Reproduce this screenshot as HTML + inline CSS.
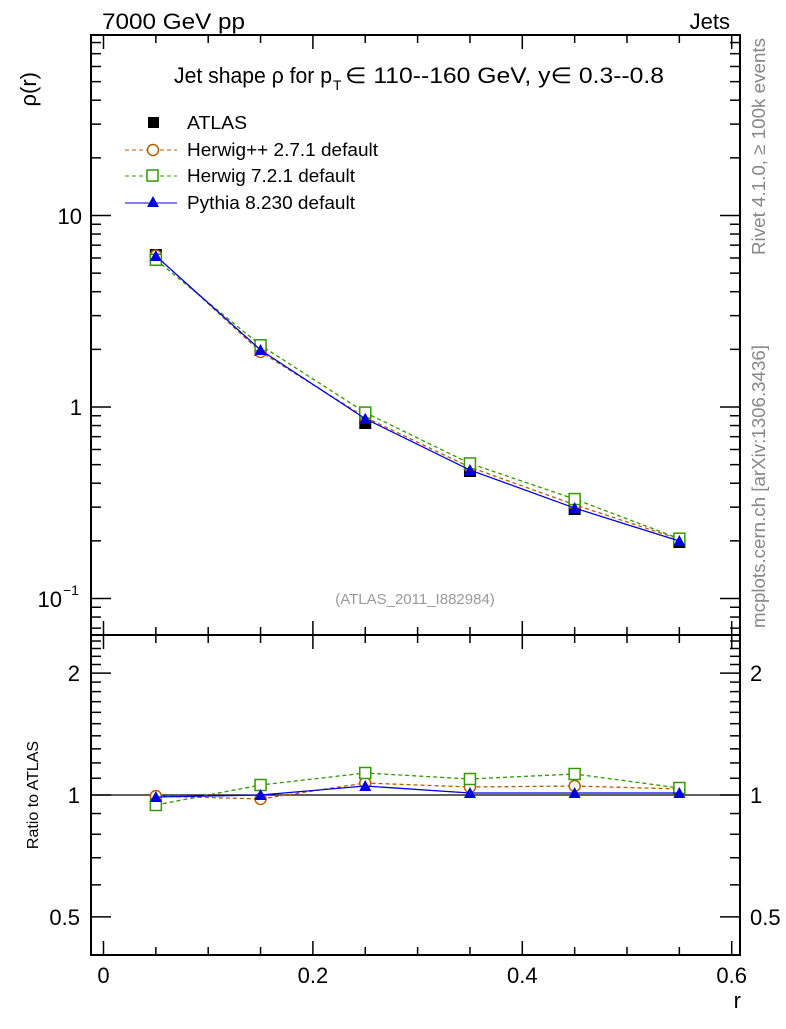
<!DOCTYPE html>
<html><head><meta charset="utf-8"><style>
body{margin:0;background:#fff}
svg text{font-family:"Liberation Sans",sans-serif}
</style></head><body>
<svg id="s" width="786" height="1024" xmlns="http://www.w3.org/2000/svg">
<rect width="786" height="1024" fill="#fff"/>
<g id="g"></g>
<text x="102" y="29" font-size="22" textLength="143" lengthAdjust="spacingAndGlyphs">7000 GeV pp</text>
<text x="730" y="29" font-size="22" text-anchor="end">Jets</text>
<text x="0" y="0" font-size="22" transform="translate(36,72) rotate(-90)" text-anchor="end">ρ(r)</text>
<text x="0" y="0" font-size="16" transform="translate(38,795) rotate(-90)" text-anchor="middle">Ratio to ATLAS</text>
<text x="741" y="1008" font-size="22" text-anchor="end">r</text>
<text x="174" y="83" font-size="22" textLength="158" lengthAdjust="spacingAndGlyphs">Jet shape ρ for p</text><text x="333" y="90" font-size="14">T</text><text x="345" y="83" font-size="22" textLength="319" lengthAdjust="spacingAndGlyphs">∈ 110--160 GeV, y∈ 0.3--0.8</text>
<text x="415" y="604" font-size="15" fill="#999" text-anchor="middle">(ATLAS_2011_I882984)</text>
<text font-size="18.5" fill="#888" transform="translate(765,255) rotate(-90)" textLength="217" lengthAdjust="spacingAndGlyphs">Rivet 4.1.0, ≥ 100k events</text>
<text font-size="18.5" fill="#888" transform="translate(765,628) rotate(-90)" textLength="283" lengthAdjust="spacingAndGlyphs">mcplots.cern.ch [arXiv:1306.3436]</text>
<g font-size="18.5">
<rect x="148" y="117" width="11" height="11" fill="#000"/><text x="187" y="129" textLength="60" lengthAdjust="spacingAndGlyphs">ATLAS</text>
<line x1="125" y1="150" x2="177" y2="150" stroke="#b85c00" stroke-dasharray="4,3"/><circle cx="153" cy="150" r="5.5" fill="#fff" stroke="#b85c00" stroke-width="1.5"/><text x="187" y="156" textLength="191" lengthAdjust="spacingAndGlyphs">Herwig++ 2.7.1 default</text>
<line x1="125" y1="176" x2="177" y2="176" stroke="#339900" stroke-dasharray="4,3"/><rect x="147" y="170" width="11" height="11" fill="#fff" stroke="#339900" stroke-width="1.5"/><text x="187" y="182" textLength="168" lengthAdjust="spacingAndGlyphs">Herwig 7.2.1 default</text>
<line x1="125" y1="203" x2="177" y2="203" stroke="#0000dd"/><polygon points="153,196 159,207 147,207" fill="#0000dd"/><text x="187" y="209" textLength="168" lengthAdjust="spacingAndGlyphs">Pythia 8.230 default</text>
</g>
</svg>
<script>
const g=document.getElementById('g');let h='';
const L=91,R=740,T=35,M=635,B=955;
const X=v=>103.5+v*1047;
h+=`<rect x="${L}" y="${T}" width="${R-L}" height="${B-T}" fill="none" stroke="#000" stroke-width="2"/>`;
h+=`<line x1="${L}" y1="${M}" x2="${R}" y2="${M}" stroke="#000" stroke-width="2"/>`;
for(let i=0;i<=12;i++){const v=i*0.05,x=X(v),maj=i%4==0;const l=maj?14:8;
 for(const [y0,d] of [[M,-1],[T,1],[B,-1],[M,1]]){h+=`<line x1="${x}" y1="${y0}" x2="${x}" y2="${y0+d*l}" stroke="#000" stroke-width="1.5"/>`;}
 if(maj)h+=`<text x="${x}" y="983" font-size="22" text-anchor="middle">${+v.toFixed(1)}</text>`;}
const YM=v=>407-191.5*Math.log10(v);
for(let e=-2;e<=2;e++)for(let m=1;m<10;m++){const v=m*Math.pow(10,e),y=YM(v);if(y<T||y>M)continue;const l=m==1?20:10;
 h+=`<line x1="${L}" y1="${y}" x2="${L+l}" y2="${y}" stroke="#000" stroke-width="1.5"/><line x1="${R}" y1="${y}" x2="${R-l}" y2="${y}" stroke="#000" stroke-width="1.5"/>`;}
h+=`<text x="82" y="224" font-size="22" text-anchor="end">10</text><text x="82" y="415" font-size="22" text-anchor="end">1</text><text x="62" y="607" font-size="22" text-anchor="end">10</text><text x="63" y="595" font-size="14">−1</text>`;
const YR=v=>795-405*Math.log10(v);
for(let i=4;i<=25;i++){const v=i/10,y=YR(v);if(y<M||y>B)continue;const maj=(v==0.5||v==1||v==2);const l=maj?20:10;
 h+=`<line x1="${L}" y1="${y}" x2="${L+l}" y2="${y}" stroke="#000" stroke-width="1.5"/><line x1="${R}" y1="${y}" x2="${R-l}" y2="${y}" stroke="#000" stroke-width="1.5"/>`;}
for(const [v,t] of [[2,'2'],[1,'1'],[0.5,'0.5']]){const y=YR(v)+8;h+=`<text x="80" y="${y}" font-size="22" text-anchor="end">${t}</text><text x="750" y="${y}" font-size="22">${t}</text>`;}
h+=`<line x1="${L}" y1="795" x2="${R}" y2="795" stroke="#000" stroke-width="1.2"/>`;
const xs=[0.05,0.15,0.25,0.35,0.45,0.55].map(X);
const ay=[255,350,423,471,509,542];
const ser=[
 {c:'#b85c00',d:'4,3',r:[796,799,783,787,786,789],m:'c'},
 {c:'#339900',d:'4,3',r:[805,785,773,779,774,788],m:'s'},
 {c:'#0000dd',d:'',r:[797,795,786,793,793,793],m:'t'}];
const mk=(m,c,x,y)=>m=='c'?`<circle cx="${x}" cy="${y}" r="5.5" fill="#fff" stroke="${c}" stroke-width="1.5"/>`:m=='s'?`<rect x="${x-5.5}" y="${y-5.5}" width="11" height="11" fill="#fff" stroke="${c}" stroke-width="1.5"/>`:`<polygon points="${x},${y-6} ${x+6},${y+5} ${x-6},${y+5}" fill="${c}"/>`;
xs.forEach((x,i)=>{h+=`<rect x="${x-6}" y="${ay[i]-6}" width="12" height="12" fill="#000"/>`;});
for(const s of ser){const my=s.r.map((ry,i)=>ay[i]-(795-ry)*191.5/405);
 h+=`<polyline points="${xs.map((x,i)=>x+','+my[i]).join(' ')}" fill="none" stroke="${s.c}" stroke-width="1.3" stroke-dasharray="${s.d}"/>`;
 h+=`<polyline points="${xs.map((x,i)=>x+','+s.r[i]).join(' ')}" fill="none" stroke="${s.c}" stroke-width="1.3" stroke-dasharray="${s.d}"/>`;
 xs.forEach((x,i)=>{h+=mk(s.m,s.c,x,my[i])+mk(s.m,s.c,x,s.r[i]);});}
g.innerHTML=h;
</script>
</body></html>
